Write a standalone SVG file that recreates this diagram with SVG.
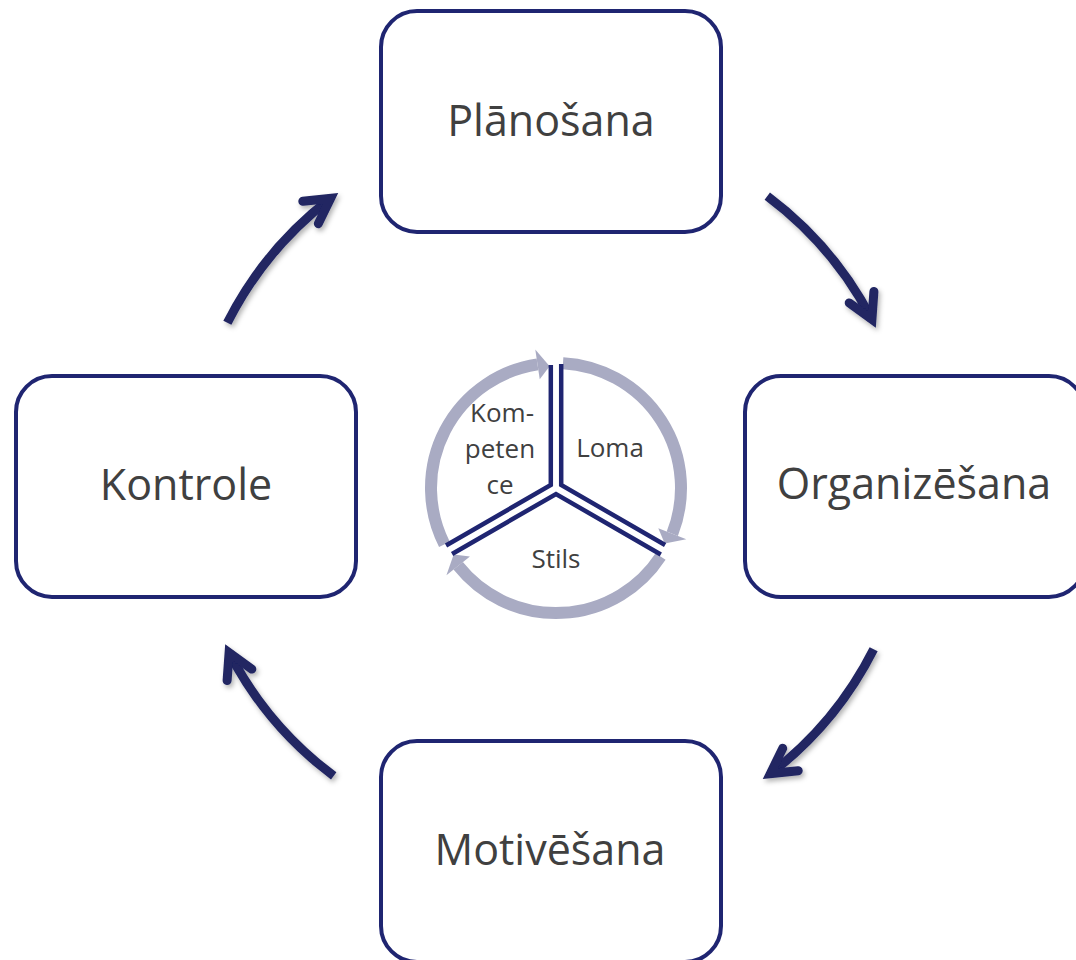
<svg xmlns="http://www.w3.org/2000/svg" xmlns:xlink="http://www.w3.org/1999/xlink" width="1076" height="960" viewBox="0 0 1076 960">
  <style>
    .box { fill: #ffffff; stroke: #1F2571; stroke-width: 4; }
    .label { font-family: "Open Sans", "Noto Sans", "Liberation Sans", sans-serif; font-size: 43px; fill: #404040; text-anchor: middle; }
    .small { font-family: "Open Sans", "Noto Sans", "Liberation Sans", sans-serif; font-size: 26px; fill: #404040; text-anchor: middle; }
    .shaft { fill: none; stroke: #202562; stroke-width: 9; stroke-linecap: butt; }
    .head { fill: none; stroke: #202562; stroke-width: 9; stroke-linecap: round; stroke-linejoin: miter; stroke-miterlimit: 6; }
    .ring { fill: none; stroke: #A9ABC3; stroke-width: 12; stroke-linecap: butt; }
    .ringhead { fill: #A9ABC3; }
    .spoke { fill: none; stroke: #1F2571; stroke-width: 4.5; stroke-linejoin: miter; stroke-linecap: butt; }
  </style>
  <defs>
    <filter id="shadow" x="-30%" y="-30%" width="160%" height="160%">
      <feDropShadow dx="2" dy="3" stdDeviation="2.5" flood-color="#000000" flood-opacity="0.3"/>
    </filter>
    <g id="bigArrow">
      <path class="shaft" d="M767.3,196.1 A362,362 0 0 1 871.9,319.4"/>
      <path class="head" d="M873.9,291.5 L871.9,319.4 L849.2,302.9"/>
    </g>
    <g id="ringSeg">
      <path class="ring" d="M563,363.2 A125,125 0 0 1 672.3,533.8"/>
      <polygon class="ringhead" points="658.3,528.3 686.3,539.3 664.7,543.4"/>
    </g>
    <path id="sector" class="spoke" d="M561.2,364 L561.2,485 L665.1,545"/>
  </defs>

  <g id="connectors">
    <g filter="url(#shadow)"><use xlink:href="#bigArrow" href="#bigArrow"/></g>
    <g filter="url(#shadow)"><use xlink:href="#bigArrow" href="#bigArrow" transform="rotate(80 550.5 486)"/></g>
    <g filter="url(#shadow)"><use xlink:href="#bigArrow" href="#bigArrow" transform="rotate(180 550.5 486)"/></g>
    <g filter="url(#shadow)"><use xlink:href="#bigArrow" href="#bigArrow" transform="rotate(260 550.5 486)"/></g>
  </g>

  <g id="node-planosana">
    <rect class="box" x="381" y="11" width="340" height="221" rx="36" ry="36"/>
    <text class="label" x="551" y="136">Plānošana</text>
  </g>
  <g id="node-organizesana">
    <rect class="box" x="745" y="376" width="340" height="221" rx="36" ry="36"/>
    <text class="label" x="914" y="499">Organizēšana</text>
  </g>
  <g id="node-motivesana">
    <rect class="box" x="381" y="741" width="340" height="221" rx="36" ry="36"/>
    <text class="label" x="550" y="865">Motivēšana</text>
  </g>
  <g id="node-kontrole">
    <rect class="box" x="16" y="376" width="340" height="221" rx="36" ry="36"/>
    <text class="label" x="186" y="500">Kontrole</text>
  </g>

  <g id="center-cycle">
    <use xlink:href="#ringSeg" href="#ringSeg"/>
    <use xlink:href="#ringSeg" href="#ringSeg" transform="rotate(120 556 488)"/>
    <use xlink:href="#ringSeg" href="#ringSeg" transform="rotate(240 556 488)"/>
    <use xlink:href="#sector" href="#sector"/>
    <use xlink:href="#sector" href="#sector" transform="rotate(120 556 488)"/>
    <use xlink:href="#sector" href="#sector" transform="rotate(240 556 488)"/>
    <text class="small" x="610" y="457">Loma</text>
    <text class="small" x="556" y="568">Stils</text>
    <text class="small" x="502" y="422">Kom-</text>
    <text class="small" x="500" y="458">peten</text>
    <text class="small" x="500" y="494">ce</text>
  </g>
</svg>
